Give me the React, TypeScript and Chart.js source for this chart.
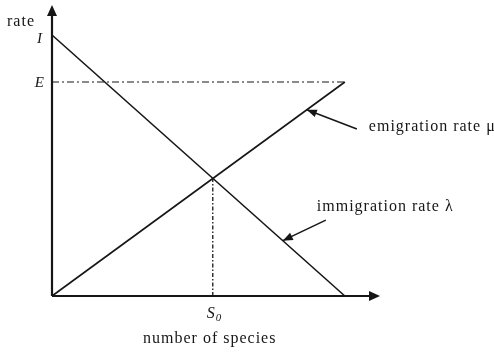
import React, { useEffect, useRef } from "react";
import { Chart, registerables } from "chart.js";

Chart.register(...registerables);

// Model values (species richness S on x, rate on y)
const speciesEnds = [0, 10]; // S = 0 .. Smax
const immigrationRate = [1, 0]; // I at S=0, 0 at Smax
const emigrationRate = [0, 0.82]; // 0 at S=0, E at Smax
const I_VALUE = 1;
const E_VALUE = 0.82;
const S0_VALUE = 5.49;
const X_AXIS_MAX = 11.2;
const Y_AXIS_MAX = 1.115;

const axisLabels = { y: "rate", x: "number of species" };
const tickLabels = { I: "I", E: "E", S: "S", sub: "0" };
const seriesLabels = { emigration: "emigration rate μ", immigration: "immigration rate λ" };

// annotation arrows: [tailX, tailY, headX] (head lies on the series line)
const emigrationArrow = [10.41, 0.64, 8.7];
const immigrationArrow = [9.35, 0.291, 7.88];

const INK = "#161616";
const SERIF = "'Liberation Serif', 'DejaVu Serif', serif";

function arrowHead(ctx: CanvasRenderingContext2D, x: number, y: number, ang: number, len: number, half: number) {
  ctx.save();
  ctx.translate(x, y);
  ctx.rotate(ang);
  ctx.beginPath();
  ctx.moveTo(0, 0);
  ctx.lineTo(-len, -half);
  ctx.lineTo(-len, half);
  ctx.closePath();
  ctx.fillStyle = INK;
  ctx.fill();
  ctx.restore();
}

function setSpacing(ctx: any, v: string) {
  if ("letterSpacing" in ctx) ctx.letterSpacing = v;
}

const decorPlugin = {
  id: "decor",
  afterDatasetsDraw(chart: any) {
    const ctx: CanvasRenderingContext2D = chart.ctx;
    const xs = chart.scales.x;
    const ys = chart.scales.y;
    const px = (v: number) => xs.getPixelForValue(v);
    const py = (v: number) => ys.getPixelForValue(v);
    ctx.save();
    // axis arrowheads
    arrowHead(ctx, px(0), py(Y_AXIS_MAX), -Math.PI / 2, 11, 5);
    arrowHead(ctx, px(X_AXIS_MAX), py(0), 0, 11, 5);

    // annotation arrows
    const drawAnno = (a: number[], lineY: (x: number) => number) => {
      const tx = px(a[0]);
      const ty = py(a[1]);
      const hx = px(a[2]);
      const hy = py(lineY(a[2]));
      ctx.beginPath();
      ctx.moveTo(tx, ty);
      ctx.lineTo(hx, hy);
      ctx.strokeStyle = INK;
      ctx.lineWidth = 1.5;
      ctx.stroke();
      arrowHead(ctx, hx, hy, Math.atan2(hy - ty, hx - tx), 10, 4);
    };
    const emiY = (x: number) => (E_VALUE * x) / speciesEnds[1];
    const immY = (x: number) => I_VALUE * (1 - x / speciesEnds[1]);
    drawAnno(emigrationArrow, emiY);
    drawAnno(immigrationArrow, immY);

    // texts
    ctx.fillStyle = INK;
    ctx.textBaseline = "alphabetic";
    ctx.font = `16px ${SERIF}`;
    setSpacing(ctx, "1px");
    ctx.textAlign = "left";
    ctx.fillText(axisLabels.y, px(0) - 45, py(Y_AXIS_MAX) + 21);
    setSpacing(ctx, "0px");
    ctx.font = `italic 15px ${SERIF}`;
    ctx.textAlign = "right";
    ctx.fillText(tickLabels.I, px(0) - 10, py(I_VALUE) + 8);
    ctx.fillText(tickLabels.E, px(0) - 8, py(E_VALUE) + 5);
    // S0
    ctx.textAlign = "left";
    ctx.font = `italic 16px ${SERIF}`;
    ctx.fillText(tickLabels.S, px(S0_VALUE) - 6, py(0) + 22);
    ctx.font = `italic 11px ${SERIF}`;
    ctx.fillText(tickLabels.sub, px(S0_VALUE) + 3, py(0) + 25);
    // x label
    ctx.font = `16px ${SERIF}`;
    setSpacing(ctx, "1px");
    ctx.textAlign = "left";
    ctx.fillText(axisLabels.x, px(0) + 91, py(0) + 47);
    // series labels
    ctx.fillText(seriesLabels.emigration, px(emigrationArrow[0]) + 12, py(emigrationArrow[1]) + 2);
    ctx.fillText(seriesLabels.immigration, px(immigrationArrow[0]) - 9, py(immigrationArrow[1]) - 9);
    ctx.restore();
  },
};

export default function App() {
  const ref = useRef<HTMLCanvasElement | null>(null);
  useEffect(() => {
    if (!ref.current) return;
    const lineBase = {
      showLine: true,
      pointRadius: 0,
      pointHoverRadius: 0,
      fill: false,
      tension: 0,
      borderColor: INK,
      clip: false as any,
    };
    const chart = new Chart(ref.current, {
      type: "scatter",
      data: {
        datasets: [
          { ...lineBase, label: "y-axis", data: [{ x: 0, y: 0 }, { x: 0, y: Y_AXIS_MAX - 0.02 }], borderWidth: 2.2 },
          { ...lineBase, label: "x-axis", data: [{ x: 0, y: 0 }, { x: X_AXIS_MAX - 0.2, y: 0 }], borderWidth: 2.2 },
          {
            ...lineBase,
            label: "immigration",
            data: speciesEnds.map((s, i) => ({ x: s, y: immigrationRate[i] })),
            borderWidth: 1.6,
          },
          {
            ...lineBase,
            label: "emigration",
            data: speciesEnds.map((s, i) => ({ x: s, y: emigrationRate[i] })),
            borderWidth: 1.6,
          },
          {
            ...lineBase,
            label: "E level",
            data: [{ x: 0, y: E_VALUE }, { x: speciesEnds[1], y: E_VALUE }],
            borderWidth: 1.2,
            borderDash: [7, 3, 2, 3],
          },
          {
            ...lineBase,
            label: "S0",
            data: [{ x: S0_VALUE, y: 0 }, { x: S0_VALUE, y: (I_VALUE * E_VALUE) / (I_VALUE + E_VALUE) }],
            borderWidth: 1.3,
            borderDash: [4, 2, 1.5, 2],
          },
        ],
      },
      options: {
        animation: false,
        responsive: false,
        events: [],
        layout: { padding: { left: 52, top: 5, right: 114, bottom: 56 } },
        plugins: { legend: { display: false }, tooltip: { enabled: false } },
        scales: {
          x: { type: "linear", min: 0, max: X_AXIS_MAX, display: false },
          y: { type: "linear", min: 0, max: Y_AXIS_MAX, display: false },
        },
      },
      plugins: [decorPlugin],
    });
    return () => chart.destroy();
  }, []);
  return (
    <div style={{ position: "fixed", left: 0, top: 0, width: 494, height: 352, background: "#fff" }}>
      <canvas ref={ref} width={494} height={352} style={{ width: 494, height: 352 }} />
    </div>
  );
}
